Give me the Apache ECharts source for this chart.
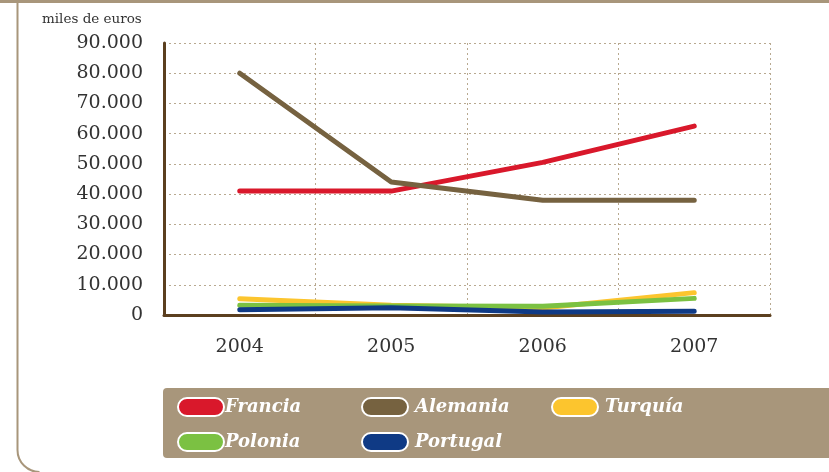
<!DOCTYPE html>
<html>
<head>
<meta charset="utf-8">
<script src="https://cdn.jsdelivr.net/npm/echarts@6/dist/echarts.min.js"></script>
<style>
  html, body { margin: 0; padding: 0; background: #fff; }
  #chart { width: 829px; height: 472px; }
</style>
</head>
<body>
<div id="chart"></div>
<script>
// datos (miles de euros)
var years = ['2004', '2005', '2006', '2007'];
var francia = [41000, 41000, 50500, 62500];
var alemania = [80000, 44000, 38000, 38000];
var turquia = [5400, 3200, 2300, 7400];
var polonia = [3200, 3000, 2900, 5500];
var portugal = [1700, 2400, 1000, 1200];
var yTicks = ['0', '10.000', '20.000', '30.000', '40.000', '50.000', '60.000', '70.000', '80.000', '90.000'];

var serif = '"DejaVu Serif", "Liberation Serif", serif';
var tan = '#a8967b';
var pill = 'path://M9,0 H37 A9,9 0 0 1 37,18 H9 A9,9 0 0 1 9,0 Z';

function line(name, data, color) {
  return {
    name: name,
    type: 'line',
    data: data,
    symbol: 'none',
    itemStyle: { color: color },
    lineStyle: { color: color, width: 5, cap: 'round', join: 'round' }
  };
}

function legendCol(left, names, textGap) {
  return {
    left: left,
    top: 397,
    padding: 0,
    orient: 'vertical',
    itemGap: 15,
    itemWidth: 46,
    itemHeight: 18,
    icon: pill,
    selectedMode: false,
    itemStyle: { borderColor: '#fff', borderWidth: 2 },
    textStyle: { color: '#fff', fontFamily: serif, fontStyle: 'italic', fontWeight: 'bold', fontSize: 18, padding: [0, 0, 0, textGap] },
    data: names
  };
}

var chart = echarts.init(document.getElementById('chart'));

var option = {
  animation: false,
  backgroundColor: '#fff',
  title: {
    text: 'miles de euros',
    left: 42,
    top: 12,
    padding: 0,
    textStyle: { fontFamily: serif, fontSize: 13.5, fontWeight: 'normal', color: '#333' }
  },
  graphic: [
    { type: 'rect', shape: { x: 0, y: 0, width: 829, height: 3 }, style: { fill: tan } },
    { type: 'line', shape: { x1: 17.5, y1: 0, x2: 17.5, y2: 450 }, style: { stroke: tan, lineWidth: 2 } },
    { type: 'arc', shape: { cx: 39.5, cy: 450, r: 22, startAngle: Math.PI / 2, endAngle: Math.PI }, style: { fill: null, stroke: tan, lineWidth: 2 } },
    { type: 'rect', z: -1, shape: { x: 163, y: 388, width: 700, height: 70, r: 4 }, style: { fill: tan } }
  ],
  grid: { left: 164, right: 59, top: 43, bottom: 157 },
  legend: [
    legendCol(177, ['Francia', 'Polonia'], -4),
    legendCol(361, ['Alemania', 'Portugal'], 2),
    legendCol(551, ['Turquía'], 2)
  ],
  xAxis: {
    type: 'category',
    data: years,
    boundaryGap: true,
    axisLine: { lineStyle: { color: '#5b3f1f', width: 3 } },
    axisTick: { show: false },
    axisLabel: { margin: 23, fontFamily: serif, fontSize: 19, color: '#333' },
    splitLine: { show: true, lineStyle: { color: '#b8a990', type: [2, 3], width: 1 } }
  },
  yAxis: {
    type: 'value',
    min: 0,
    max: 90000,
    interval: 10000,
    axisLine: { show: true, lineStyle: { color: '#5b3f1f', width: 3 } },
    axisTick: { show: false },
    axisLabel: {
      margin: 21,
      fontFamily: serif,
      fontSize: 19,
      color: '#333',
      formatter: function (v) { return yTicks[Math.round(v / 10000)]; }
    },
    splitLine: { lineStyle: { color: '#b8a990', type: [2, 3], width: 1 } }
  },
  series: [
    line('Francia', francia, '#d9182b'),
    line('Alemania', alemania, '#766240'),
    line('Turquía', turquia, '#fcc52e'),
    line('Polonia', polonia, '#7bc142'),
    line('Portugal', portugal, '#0f3a85')
  ]
};

chart.setOption(option);
</script>
</body>
</html>
